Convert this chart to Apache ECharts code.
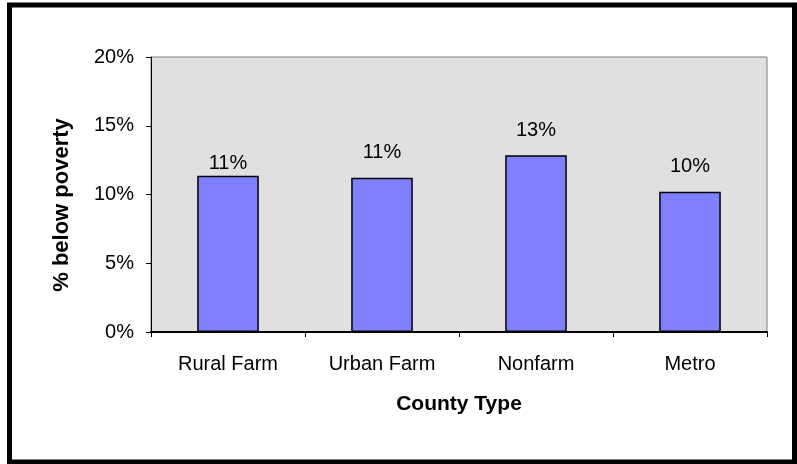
<!DOCTYPE html>
<html>
<head>
<meta charset="utf-8">
<script src="https://cdn.jsdelivr.net/npm/echarts@6/dist/echarts.min.js"></script>
<style>
  html, body { margin: 0; padding: 0; background: #fff; }
  #chart { width: 797px; height: 464px; }
</style>
</head>
<body>
<div id="chart"></div>
<script>
// County types and share of population below the poverty line (%)
const countyTypes = ['Rural Farm', 'Urban Farm', 'Nonfarm', 'Metro'];
const povertyRates = [11.37, 11.22, 12.86, 10.2];
const rateLabels = ['11%', '11%', '13%', '10%'];
// Extra lift above each bar for its value label (px)
const labelLift = [2, 15, 15, 15];

const chart = echarts.init(document.getElementById('chart'), null, { renderer: 'canvas' });
const font = 'Liberation Sans, Arial, sans-serif';

chart.setOption({
  animation: false,
  backgroundColor: '#ffffff',
  graphic: [
    {
      type: 'rect',
      shape: { x: 9.5, y: 5, width: 785, height: 457 },
      style: { fill: 'none', stroke: '#000', lineWidth: 5 },
      z: 100
    }
  ],
  grid: {
    left: 151, top: 57, right: 30, bottom: 132,
    show: true,
    backgroundColor: '#e0e0e0',
    borderColor: '#808080',
    borderWidth: 1
  },
  xAxis: {
    type: 'category',
    data: countyTypes,
    name: 'County Type',
    nameLocation: 'middle',
    nameGap: 62,
    nameTextStyle: { fontFamily: font, fontSize: 21, fontWeight: 'bold', color: '#000' },
    axisLine: { lineStyle: { color: '#000', width: 2 } },
    axisTick: { show: true, length: 5, lineStyle: { color: '#000' } },
    axisLabel: { fontFamily: font, fontSize: 20, color: '#000', margin: 22 },
    splitLine: { show: false }
  },
  yAxis: {
    type: 'value',
    min: 0, max: 20, interval: 5,
    name: '% below poverty',
    nameLocation: 'middle',
    nameGap: 78,
    nameTextStyle: { fontFamily: font, fontSize: 22, fontWeight: 'bold', color: '#000',
      padding: [0, 21, 0, 0] },
    axisLine: { show: true, lineStyle: { color: '#000', width: 1 } },
    axisTick: { show: true, length: 5, inside: false, lineStyle: { color: '#000' } },
    axisLabel: { fontFamily: font, fontSize: 20, color: '#000', margin: 17,
      formatter: v => v + '%' },
    splitLine: { show: false }
  },
  series: [{
    type: 'bar',
    barWidth: '40%',
    data: povertyRates.map((v, i) => ({
      value: v,
      label: { show: true, position: 'top', distance: labelLift[i],
        formatter: rateLabels[i], fontFamily: font, fontSize: 20, color: '#000' }
    })),
    itemStyle: { color: '#8080ff', borderColor: '#000', borderWidth: 1.5 }
  }]
});
</script>
</body>
</html>
